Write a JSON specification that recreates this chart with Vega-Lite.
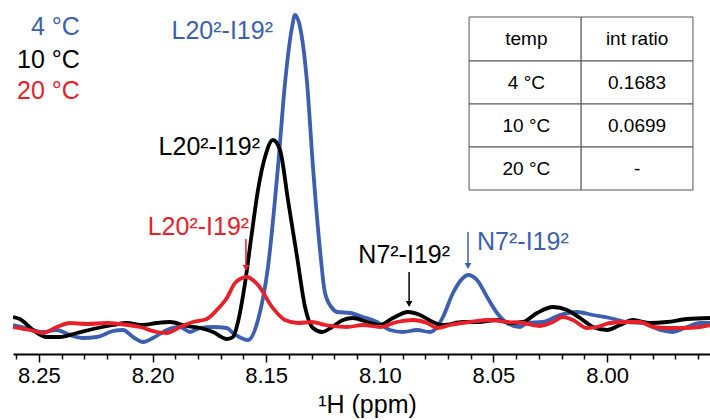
{
  "$schema": "https://vega.github.io/schema/vega-lite/v6.json",
  "autosize": "none",
  "width": 697,
  "height": 354,
  "padding": {"left": 13, "top": 0, "right": 0, "bottom": 66},
  "background": "white",
  "view": {"stroke": null},
  "config": {"font": "Liberation Sans"},
  "datasets": {
    "spec": [
      {"s": "4 °C", "ppm": 8.2614, "i": 0}, {"s": "4 °C", "ppm": 8.2553, "i": -3}, {"s": "4 °C", "ppm": 8.2482, "i": -7}, {"s": "4 °C", "ppm": 8.2421, "i": -5}, {"s": "4 °C", "ppm": 8.2364, "i": -10}, {"s": "4 °C", "ppm": 8.2306, "i": -13}, {"s": "4 °C", "ppm": 8.2245, "i": -12}, {"s": "4 °C", "ppm": 8.2174, "i": -6}, {"s": "4 °C", "ppm": 8.2130, "i": -5}, {"s": "4 °C", "ppm": 8.2086, "i": -12}, {"s": "4 °C", "ppm": 8.2042, "i": -17}, {"s": "4 °C", "ppm": 8.1998, "i": -13}, {"s": "4 °C", "ppm": 8.1937, "i": -5}, {"s": "4 °C", "ppm": 8.1879, "i": -2}, {"s": "4 °C", "ppm": 8.1835, "i": -7}, {"s": "4 °C", "ppm": 8.1791, "i": -3}, {"s": "4 °C", "ppm": 8.1734, "i": -2}, {"s": "4 °C", "ppm": 8.1673, "i": -3}, {"s": "4 °C", "ppm": 8.1646, "i": -8}, {"s": "4 °C", "ppm": 8.1580, "i": -15}, {"s": "4 °C", "ppm": 8.1536, "i": 5}, {"s": "4 °C", "ppm": 8.1492, "i": 58}, {"s": "4 °C", "ppm": 8.1448, "i": 158}, {"s": "4 °C", "ppm": 8.1417, "i": 242}, {"s": "4 °C", "ppm": 8.1386, "i": 298}, {"s": "4 °C", "ppm": 8.1373, "i": 310}, {"s": "4 °C", "ppm": 8.1351, "i": 298}, {"s": "4 °C", "ppm": 8.1320, "i": 242}, {"s": "4 °C", "ppm": 8.1294, "i": 158}, {"s": "4 °C", "ppm": 8.1263, "i": 75}, {"s": "4 °C", "ppm": 8.1241, "i": 32}, {"s": "4 °C", "ppm": 8.1210, "i": 17}, {"s": "4 °C", "ppm": 8.1188, "i": 13}, {"s": "4 °C", "ppm": 8.1131, "i": 12}, {"s": "4 °C", "ppm": 8.1074, "i": 8}, {"s": "4 °C", "ppm": 8.1012, "i": 3}, {"s": "4 °C", "ppm": 8.0955, "i": -5}, {"s": "4 °C", "ppm": 8.0898, "i": -7}, {"s": "4 °C", "ppm": 8.0836, "i": -5}, {"s": "4 °C", "ppm": 8.0779, "i": -7}, {"s": "4 °C", "ppm": 8.0748, "i": -2}, {"s": "4 °C", "ppm": 8.0722, "i": 8}, {"s": "4 °C", "ppm": 8.0678, "i": 32}, {"s": "4 °C", "ppm": 8.0634, "i": 47}, {"s": "4 °C", "ppm": 8.0612, "i": 50}, {"s": "4 °C", "ppm": 8.0572, "i": 45}, {"s": "4 °C", "ppm": 8.0528, "i": 28}, {"s": "4 °C", "ppm": 8.0484, "i": 12}, {"s": "4 °C", "ppm": 8.0440, "i": 2}, {"s": "4 °C", "ppm": 8.0383, "i": -2}, {"s": "4 °C", "ppm": 8.0352, "i": 2}, {"s": "4 °C", "ppm": 8.0282, "i": 3}, {"s": "4 °C", "ppm": 8.0207, "i": 10}, {"s": "4 °C", "ppm": 8.0132, "i": 13}, {"s": "4 °C", "ppm": 8.0062, "i": 10}, {"s": "4 °C", "ppm": 7.9987, "i": 7}, {"s": "4 °C", "ppm": 7.9912, "i": 3}, {"s": "4 °C", "ppm": 7.9842, "i": 2}, {"s": "4 °C", "ppm": 7.9767, "i": -5}, {"s": "4 °C", "ppm": 7.9710, "i": -7}, {"s": "4 °C", "ppm": 7.9648, "i": -2}, {"s": "4 °C", "ppm": 7.9591, "i": 2}, {"s": "4 °C", "ppm": 7.9547, "i": 2},

      {"s": "10 °C", "ppm": 8.2614, "i": 8}, {"s": "10 °C", "ppm": 8.2584, "i": 6}, {"s": "10 °C", "ppm": 8.2526, "i": -5}, {"s": "10 °C", "ppm": 8.2465, "i": -12}, {"s": "10 °C", "ppm": 8.2408, "i": -12}, {"s": "10 °C", "ppm": 8.2333, "i": -8}, {"s": "10 °C", "ppm": 8.2262, "i": -4}, {"s": "10 °C", "ppm": 8.2174, "i": 0}, {"s": "10 °C", "ppm": 8.2113, "i": 2}, {"s": "10 °C", "ppm": 8.2042, "i": 0}, {"s": "10 °C", "ppm": 8.1981, "i": 2}, {"s": "10 °C", "ppm": 8.1923, "i": 3}, {"s": "10 °C", "ppm": 8.1849, "i": -1}, {"s": "10 °C", "ppm": 8.1791, "i": -3}, {"s": "10 °C", "ppm": 8.1734, "i": -7}, {"s": "10 °C", "ppm": 8.1673, "i": -14}, {"s": "10 °C", "ppm": 8.1646, "i": -12}, {"s": "10 °C", "ppm": 8.1624, "i": 3}, {"s": "10 °C", "ppm": 8.1593, "i": 42}, {"s": "10 °C", "ppm": 8.1563, "i": 92}, {"s": "10 °C", "ppm": 8.1536, "i": 135}, {"s": "10 °C", "ppm": 8.1505, "i": 168}, {"s": "10 °C", "ppm": 8.1470, "i": 185}, {"s": "10 °C", "ppm": 8.1439, "i": 175}, {"s": "10 °C", "ppm": 8.1404, "i": 125}, {"s": "10 °C", "ppm": 8.1364, "i": 68}, {"s": "10 °C", "ppm": 8.1329, "i": 18}, {"s": "10 °C", "ppm": 8.1294, "i": -3}, {"s": "10 °C", "ppm": 8.1254, "i": -7}, {"s": "10 °C", "ppm": 8.1210, "i": -2}, {"s": "10 °C", "ppm": 8.1162, "i": 5}, {"s": "10 °C", "ppm": 8.1118, "i": 7}, {"s": "10 °C", "ppm": 8.1056, "i": 3}, {"s": "10 °C", "ppm": 8.0999, "i": 0}, {"s": "10 °C", "ppm": 8.0942, "i": 7}, {"s": "10 °C", "ppm": 8.0876, "i": 13}, {"s": "10 °C", "ppm": 8.0823, "i": 10}, {"s": "10 °C", "ppm": 8.0766, "i": 3}, {"s": "10 °C", "ppm": 8.0722, "i": 0}, {"s": "10 °C", "ppm": 8.0634, "i": 3}, {"s": "10 °C", "ppm": 8.0559, "i": 3}, {"s": "10 °C", "ppm": 8.0484, "i": 5}, {"s": "10 °C", "ppm": 8.0427, "i": 2}, {"s": "10 °C", "ppm": 8.0370, "i": 3}, {"s": "10 °C", "ppm": 8.0308, "i": 12}, {"s": "10 °C", "ppm": 8.0238, "i": 18}, {"s": "10 °C", "ppm": 8.0176, "i": 15}, {"s": "10 °C", "ppm": 8.0119, "i": 7}, {"s": "10 °C", "ppm": 8.0062, "i": -2}, {"s": "10 °C", "ppm": 8.0000, "i": -5}, {"s": "10 °C", "ppm": 7.9943, "i": 0}, {"s": "10 °C", "ppm": 7.9886, "i": 5}, {"s": "10 °C", "ppm": 7.9811, "i": 2}, {"s": "10 °C", "ppm": 7.9736, "i": 3}, {"s": "10 °C", "ppm": 7.9648, "i": 6}, {"s": "10 °C", "ppm": 7.9547, "i": 7},

      {"s": "20 °C", "ppm": 8.2614, "i": -2}, {"s": "20 °C", "ppm": 8.2540, "i": -5}, {"s": "20 °C", "ppm": 8.2482, "i": -8}, {"s": "20 °C", "ppm": 8.2421, "i": -2}, {"s": "20 °C", "ppm": 8.2364, "i": 2}, {"s": "20 °C", "ppm": 8.2289, "i": 1}, {"s": "20 °C", "ppm": 8.2201, "i": 2}, {"s": "20 °C", "ppm": 8.2143, "i": 1}, {"s": "20 °C", "ppm": 8.2055, "i": -2}, {"s": "20 °C", "ppm": 8.1981, "i": -7}, {"s": "20 °C", "ppm": 8.1937, "i": -8}, {"s": "20 °C", "ppm": 8.1879, "i": -2}, {"s": "20 °C", "ppm": 8.1822, "i": 3}, {"s": "20 °C", "ppm": 8.1761, "i": 6}, {"s": "20 °C", "ppm": 8.1717, "i": 15}, {"s": "20 °C", "ppm": 8.1673, "i": 27}, {"s": "20 °C", "ppm": 8.1637, "i": 42}, {"s": "20 °C", "ppm": 8.1585, "i": 48}, {"s": "20 °C", "ppm": 8.1536, "i": 40}, {"s": "20 °C", "ppm": 8.1474, "i": 18}, {"s": "20 °C", "ppm": 8.1417, "i": 5}, {"s": "20 °C", "ppm": 8.1360, "i": 2}, {"s": "20 °C", "ppm": 8.1298, "i": 3}, {"s": "20 °C", "ppm": 8.1241, "i": 0}, {"s": "20 °C", "ppm": 8.1144, "i": -2}, {"s": "20 °C", "ppm": 8.1074, "i": 0}, {"s": "20 °C", "ppm": 8.0999, "i": -2}, {"s": "20 °C", "ppm": 8.0924, "i": 3}, {"s": "20 °C", "ppm": 8.0854, "i": 5}, {"s": "20 °C", "ppm": 8.0792, "i": 2}, {"s": "20 °C", "ppm": 8.0748, "i": -3}, {"s": "20 °C", "ppm": 8.0691, "i": 0}, {"s": "20 °C", "ppm": 8.0603, "i": 3}, {"s": "20 °C", "ppm": 8.0515, "i": 5}, {"s": "20 °C", "ppm": 8.0440, "i": 3}, {"s": "20 °C", "ppm": 8.0370, "i": 2}, {"s": "20 °C", "ppm": 8.0295, "i": -1}, {"s": "20 °C", "ppm": 8.0238, "i": 3}, {"s": "20 °C", "ppm": 8.0194, "i": 8}, {"s": "20 °C", "ppm": 8.0150, "i": 5}, {"s": "20 °C", "ppm": 8.0088, "i": -3}, {"s": "20 °C", "ppm": 8.0044, "i": -2}, {"s": "20 °C", "ppm": 7.9987, "i": 2}, {"s": "20 °C", "ppm": 7.9912, "i": 3}, {"s": "20 °C", "ppm": 7.9855, "i": 3}, {"s": "20 °C", "ppm": 7.9798, "i": -2}, {"s": "20 °C", "ppm": 7.9736, "i": -3}, {"s": "20 °C", "ppm": 7.9666, "i": -3}, {"s": "20 °C", "ppm": 7.9591, "i": -2}, {"s": "20 °C", "ppm": 7.9547, "i": 0}
    ],
    "rightLabels": [
      {"s": "4 °C", "ppm": 8.2320, "i": 290, "t": "4 °C", "kind": "legend"},
      {"s": "10 °C", "ppm": 8.2320, "i": 257, "t": "10 °C", "kind": "legend"},
      {"s": "20 °C", "ppm": 8.2320, "i": 226, "t": "20 °C", "kind": "legend"},
      {"s": "4 °C", "ppm": 8.1470, "i": 286, "t": "L20²-I19²", "kind": "peak"},
      {"s": "10 °C", "ppm": 8.1527, "i": 170, "t": "L20²-I19²", "kind": "peak"},
      {"s": "20 °C", "ppm": 8.1575, "i": 90, "t": "L20²-I19²", "kind": "peak"},
      {"s": "10 °C", "ppm": 8.0691, "i": 62, "t": "N7²-I19²", "kind": "peak"}
    ],
    "leftLabels": [
      {"s": "4 °C", "ppm": 8.0572, "i": 75, "t": "N7²-I19²"}
    ],
    "arrows": [
      {"s": "20 °C", "ppm": 8.1589, "i": 86, "i2": 58, "tip": 57},
      {"s": "10 °C", "ppm": 8.0871, "i": 53, "i2": 22, "tip": 21},
      {"s": "4 °C", "ppm": 8.0612, "i": 93, "i2": 60, "tip": 59}
    ],
    "cells": [
      {"ppm": 8.0607, "ppm2": 8.0114, "i": 308, "i2": 264},
      {"ppm": 8.0114, "ppm2": 7.9622, "i": 308, "i2": 264},
      {"ppm": 8.0607, "ppm2": 8.0114, "i": 264, "i2": 221},
      {"ppm": 8.0114, "ppm2": 7.9622, "i": 264, "i2": 221},
      {"ppm": 8.0607, "ppm2": 8.0114, "i": 221, "i2": 178},
      {"ppm": 8.0114, "ppm2": 7.9622, "i": 221, "i2": 178},
      {"ppm": 8.0607, "ppm2": 8.0114, "i": 178, "i2": 135},
      {"ppm": 8.0114, "ppm2": 7.9622, "i": 178, "i2": 135}
    ],
    "cellText": [
      {"ppm": 8.0355, "i": 286, "t": "temp"},
      {"ppm": 7.9868, "i": 286, "t": "int ratio"},
      {"ppm": 8.0355, "i": 242, "t": "4 °C"},
      {"ppm": 7.9868, "i": 242, "t": "0.1683"},
      {"ppm": 8.0355, "i": 199, "t": "10 °C"},
      {"ppm": 7.9868, "i": 199, "t": "0.0699"},
      {"ppm": 8.0355, "i": 156, "t": "20 °C"},
      {"ppm": 7.9868, "i": 156, "t": "-"}
    ]
  },
  "encoding": {
    "x": {
      "field": "ppm", "type": "quantitative",
      "scale": {"domain": [7.9547, 8.2614], "reverse": true, "nice": false, "zero": false},
      "axis": {
        "values": [8.26, 8.25, 8.24, 8.23, 8.22, 8.21, 8.2, 8.19, 8.18, 8.17, 8.16, 8.15, 8.14, 8.13, 8.12, 8.11, 8.1, 8.09, 8.08, 8.07, 8.06, 8.05, 8.04, 8.03, 8.02, 8.01, 8.0, 7.99, 7.98, 7.97, 7.96],
        "labelExpr": "abs(datum.value*20 - round(datum.value*20)) < 0.001 ? format(datum.value, '.2f') : ''",
        "tickSize": {"condition": {"test": "abs(datum.value*20 - round(datum.value*20)) < 0.001", "value": 8}, "value": 5},
        "tickColor": "black", "tickWidth": 1.5,
        "domainColor": "black", "domainWidth": 2,
        "labelFontSize": 22, "labelColor": "black", "labelPadding": 3,
        "labelOverlap": false, "labelFlush": false, "grid": false,
        "title": "¹H (ppm)", "titleFontSize": 25, "titleFontWeight": "normal", "titleColor": "black",
        "titleBaseline": "alphabetic", "titleY": 58, "titleX": 354
      }
    },
    "y": {
      "field": "i", "type": "quantitative",
      "scale": {"domain": [-29, 325], "nice": false, "zero": false},
      "axis": null
    }
  },
  "layer": [
    {
      "data": {"name": "cells"},
      "mark": {"type": "rect", "fill": "white", "stroke": "#555555", "strokeWidth": 1},
      "encoding": {
        "x2": {"field": "ppm2"},
        "y2": {"field": "i2"}
      }
    },
    {
      "data": {"name": "cellText"},
      "mark": {"type": "text", "align": "center", "baseline": "middle", "fontSize": 19, "color": "black"},
      "encoding": {
        "text": {"field": "t"}
      }
    },
    {
      "data": {"name": "spec"},
      "transform": [{"filter": "datum.s === '4 °C'"}],
      "mark": {"type": "line", "interpolate": "monotone", "strokeWidth": 3.8, "clip": true},
      "encoding": {
        "color": {
          "field": "s", "type": "nominal",
          "scale": {"domain": ["4 °C", "10 °C", "20 °C"], "range": ["#3d5fb0", "#000000", "#e8202a"]},
          "legend": null
        }
      }
    },
    {
      "data": {"name": "spec"},
      "transform": [{"filter": "datum.s === '10 °C'"}],
      "mark": {"type": "line", "interpolate": "monotone", "strokeWidth": 3.8, "clip": true},
      "encoding": {
        "color": {"field": "s", "type": "nominal", "legend": null}
      }
    },
    {
      "data": {"name": "spec"},
      "transform": [{"filter": "datum.s === '20 °C'"}],
      "mark": {"type": "line", "interpolate": "monotone", "strokeWidth": 3.8, "clip": true},
      "encoding": {
        "color": {"field": "s", "type": "nominal", "legend": null}
      }
    },
    {
      "data": {"name": "arrows"},
      "mark": {"type": "rule", "strokeWidth": 1.5},
      "encoding": {
        "y2": {"field": "i2"},
        "color": {"field": "s", "type": "nominal", "legend": null}
      }
    },
    {
      "data": {"name": "arrows"},
      "mark": {"type": "point", "shape": "triangle-down", "filled": true, "size": 45, "opacity": 1},
      "encoding": {
        "y": {"field": "tip", "type": "quantitative"},
        "color": {"field": "s", "type": "nominal", "legend": null}
      }
    },
    {
      "data": {"name": "rightLabels"},
      "transform": [{"filter": "datum.kind === 'legend'"}],
      "mark": {"type": "text", "align": "right", "baseline": "alphabetic", "fontSize": 25},
      "encoding": {
        "text": {"field": "t"},
        "color": {"field": "s", "type": "nominal", "legend": null}
      }
    },
    {
      "data": {"name": "rightLabels"},
      "transform": [{"filter": "datum.kind === 'peak'"}],
      "mark": {"type": "text", "align": "right", "baseline": "alphabetic", "fontSize": 25},
      "encoding": {
        "text": {"field": "t"},
        "color": {"field": "s", "type": "nominal", "legend": null}
      }
    },
    {
      "data": {"name": "leftLabels"},
      "mark": {"type": "text", "align": "left", "baseline": "alphabetic", "fontSize": 25},
      "encoding": {
        "text": {"field": "t"},
        "color": {"field": "s", "type": "nominal", "legend": null}
      }
    }
  ]
}
